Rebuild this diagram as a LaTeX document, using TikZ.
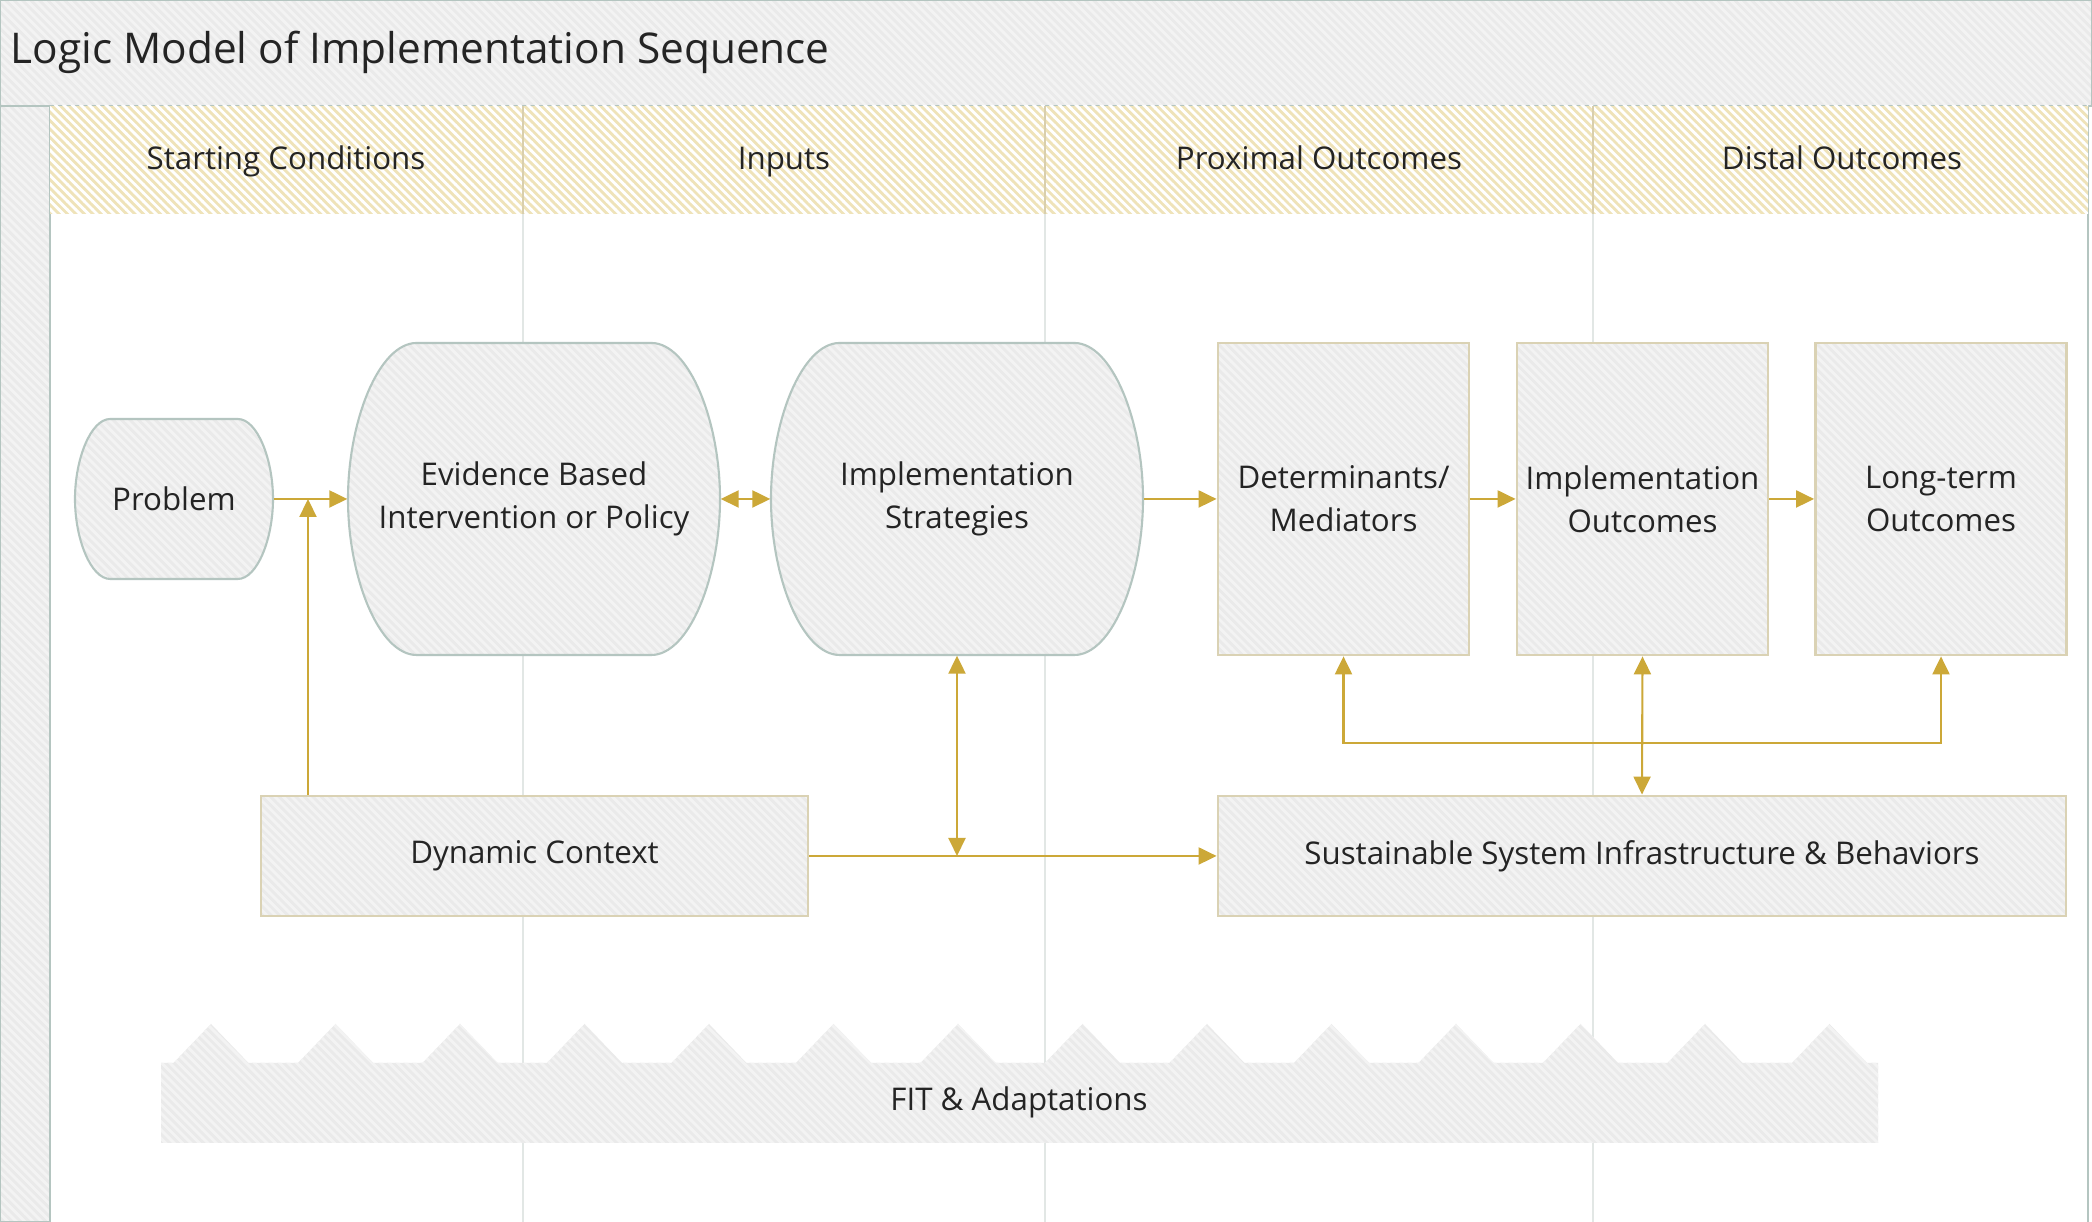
\documentclass[tikz,border=0pt]{standalone}
\usepackage{fontspec}
\setmainfont{Open Sans}
\usetikzlibrary{arrows.meta,patterns}

\definecolor{gold}{RGB}{204,168,56}
\definecolor{paper}{RGB}{234,234,234}
\definecolor{hatch}{RGB}{243,243,243}
\definecolor{sand}{RGB}{239,227,185}
\definecolor{edge}{RGB}{180,197,192}
\definecolor{tan}{RGB}{218,210,180}
\definecolor{lane}{RGB}{226,231,229}
\definecolor{ink}{RGB}{36,36,36}

% diagonal stripes, a bit denser and wider than north west lines
\pgfdeclarepatternformonly{stripes}{\pgfqpoint{-1pt}{-1pt}}{\pgfqpoint{3.4pt}{3.4pt}}{\pgfqpoint{2.4pt}{2.4pt}}
{
  \pgfsetlinewidth{0.8pt}
  \pgfpathmoveto{\pgfqpoint{-0.1pt}{2.5pt}}
  \pgfpathlineto{\pgfqpoint{2.5pt}{-0.1pt}}
  \pgfusepath{stroke}
}

\tikzset{
  >={Triangle[length=1.8mm,width=1.7mm]},
  greyfill/.style={preaction={fill=paper}, pattern=stripes, pattern color=hatch},
  label/.style={text=ink, font=\fontsize{8.9}{12.2}\selectfont, align=center},
  blob/.style={rectangle, inner sep=0pt, label},
  tile/.style={greyfill, draw=tan, line width=0.8pt, rectangle, inner sep=0pt, label},
  flow/.style={draw=gold, line width=0.6pt},
}

\begin{document}
\begin{tikzpicture}
\useasboundingbox (0,0) rectangle (20.92,12.22);
\fill[white] (0,0) rectangle (20.92,12.22);

% swim lanes
\foreach \x in {5.23,10.45,15.93}
  \draw[lane, line width=0.4pt] (\x,0) -- (\x,10.08);

% left strip and title band
\draw[greyfill, draw=edge, line width=0.6pt] (0,0) rectangle (0.50,11.16);
\draw[greyfill, draw=edge, line width=0.6pt] (0,11.16) rectangle (20.92,12.22);
\draw[edge, line width=0.6pt] (20.88,0) -- (20.88,11.16);
\node[anchor=west, inner sep=0pt, text=ink, font=\fontsize{12.05}{15}\selectfont] (title) at (0.10,11.70) {Logic Model of Implementation Sequence};

% column headers
\path[preaction={fill=sand}, pattern=stripes, pattern color=white] (0.50,10.08) rectangle (20.88,11.16);
\foreach \x in {5.23,10.45,15.93}
  \draw[sand!80!gray, line width=0.3pt] (\x,10.08) -- (\x,11.16);
\node[label, anchor=base] (h1) at (2.86,10.52) {Starting Conditions};
\node[label, anchor=base] (h2) at (7.84,10.52) {Inputs};
\node[label, anchor=base] (h3) at (13.19,10.52) {Proximal Outcomes};
\node[label, anchor=base] (h4) at (18.42,10.52) {Distal Outcomes};

% FIT band with teeth
\path[greyfill] (1.61,0.79) -- (1.61,1.59)
  \foreach \k in {0,...,13} { -- ({2.11+1.245*\k-0.375},1.59) -- ({2.11+1.245*\k},1.98) -- ({2.11+1.245*\k+0.375},1.59) }
  -- (18.78,1.59) -- (18.78,0.79) -- cycle;
\node[label] (fit) at (10.19,1.20) {FIT \& Adaptations};

% bulged outlines for problem, intervention and strategies
\foreach \cx/\w/\h in {1.74/1.98/1.60, 5.34/3.72/3.12, 9.57/3.72/3.12} {
  \pgfmathsetmacro\a{\w/2}
  \pgfmathsetmacro\b{\h/2}
  \pgfmathsetmacro\i{0.22*\h}
  \begin{scope}[shift={(\cx,7.23)}]
    \draw[greyfill, draw=edge, line width=0.6pt]
      (-\a+\i,\b) -- (\a-\i,\b)
      .. controls (\a-0.45*\i,\b) and (\a,0.5*\b) .. (\a,0)
      .. controls (\a,-0.5*\b) and (\a-0.45*\i,-\b) .. (\a-\i,-\b)
      -- (-\a+\i,-\b)
      .. controls (-\a+0.45*\i,-\b) and (-\a,-0.5*\b) .. (-\a,0)
      .. controls (-\a,0.5*\b) and (-\a+0.45*\i,\b) .. cycle;
  \end{scope}
}

% main sequence
\node[blob, minimum width=1.98cm, minimum height=1.60cm] (prob) at (1.74,7.23) {Problem};
\node[blob, minimum width=3.72cm, minimum height=3.12cm] (ebi) at (5.34,7.23) {Evidence Based\\Intervention or Policy};
\node[blob, minimum width=3.72cm, minimum height=3.12cm] (strat) at (9.57,7.23) {Implementation\\Strategies};
\node[tile, minimum width=2.51cm, minimum height=3.12cm] (det) at (13.435,7.23) {Determinants/\\Mediators};
\node[tile, minimum width=2.51cm, minimum height=3.12cm] (iout) at (16.425,7.23) {Implementation\\Outcomes};
\node[tile, minimum width=2.51cm, minimum height=3.12cm] (lto) at (19.41,7.23) {Long-term\\Outcomes};

% context row
\node[tile, minimum width=5.47cm, minimum height=1.20cm] (dyn) at (5.345,3.66) {Dynamic Context};
\node[tile, minimum width=8.48cm, minimum height=1.20cm] (sust) at (16.42,3.66) {Sustainable System Infrastructure \& Behaviors};

\coordinate (pj) at (3.08,7.23);
\coordinate (sj) at (strat.south |- dyn.east);
\coordinate (bus) at (0,4.79);

% connectors
\draw[flow, ->] (prob.east) -- (ebi.west);
\draw[flow, ->] (dyn.north -| pj) -- (pj);
\draw[flow, <->] (ebi.east) -- (strat.west);
\draw[flow, ->] (strat.east) -- (det.west);
\draw[flow, ->] (det.east) -- (iout.west);
\draw[flow, ->] (iout.east) -- (lto.west);
\draw[flow, ->] (dyn.east) -- (sust.west);
\draw[flow, <->] (strat.south) -- (sj);
\draw[flow, <->] (det.south) -- (det.south |- bus) -| (lto.south);
\draw[flow, <->] (iout.south) -- (sust.north);
\end{tikzpicture}
\end{document}
